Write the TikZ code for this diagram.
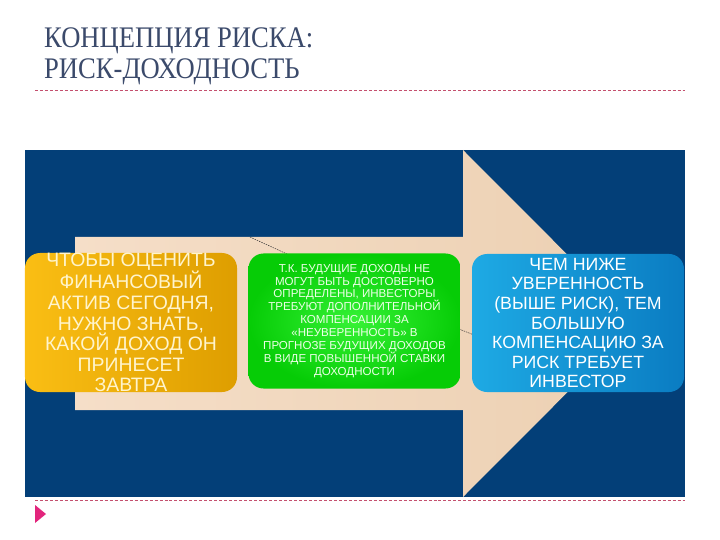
\documentclass[tikz,border=0pt]{standalone}
\usepackage{fontspec}
\setmainfont{Liberation Sans}
\newfontfamily\titlefont{Liberation Serif}
\definecolor{bgblue}{HTML}{033F78}
\definecolor{beigeL}{HTML}{F5DEC8}
\definecolor{beigeR}{HTML}{ECD0B2}
\definecolor{orgL}{HTML}{FABE14}
\definecolor{orgR}{HTML}{DE9E00}
\definecolor{grnI}{HTML}{36F236}
\definecolor{grnO}{HTML}{06CC06}
\definecolor{bluL}{HTML}{1EAAE4}
\definecolor{bluR}{HTML}{0A7CC2}
\definecolor{titlec}{HTML}{3B4A6B}
\definecolor{dashc}{HTML}{C4506E}
\definecolor{bullet}{HTML}{E2257C}
\definecolor{otxt}{HTML}{FFF4CC}
\definecolor{gtxt}{HTML}{ECFFE6}
\tikzset{
  boxshape/.style={rounded corners=15bp, inner sep=0pt, draw=none},
  otext/.style={align=center, text=otxt, font=\fontsize{19.5}{20.7}\selectfont, inner sep=0pt},
  gtext/.style={align=center, text=gtxt, font=\fontsize{11.6}{13}\selectfont, inner sep=0pt},
  btext/.style={align=center, text=white, font=\fontsize{17.8}{19.7}\selectfont, inner sep=0pt},
  titletext/.style={anchor=base west, inner sep=0pt, text=titlec, font=\titlefont\fontsize{30}{31}\selectfont, xscale=0.89},
  rule/.style={dashc, line width=0.8pt, dash pattern=on 3pt off 2pt},
  conn/.style={black!80, line width=0.5pt, dash pattern=on 1.5pt off 1pt}
}
\begin{document}
\begin{tikzpicture}[x=1bp,y=-1bp]
\useasboundingbox (0,0) rectangle (720,540);
\fill[white] (0,0) rectangle (720,540);

% title
\node[titletext] (title1) at (44,48) {КОНЦЕПЦИЯ РИСКА:};
\node[titletext] (title2) at (44,79) {РИСК-ДОХОДНОСТЬ};
\draw[rule] (35,90) -- (685,90);

% background
\fill[bgblue] (25,150) rectangle (685,497);

% arrow
\shade[left color=beigeL, right color=beigeR]
  (75,237) -- (463,237) -- (463,150) -- (636,323.5) -- (463,497) -- (463,410) -- (75,410) -- cycle;

% dashed connector remnants
\coordinate (c1) at (250,237);
\coordinate (c2) at (287,254);
\coordinate (c3) at (459,329);
\coordinate (c4) at (474,335);
\draw[conn] (c1) -- (c2);
\draw[conn] (c3) -- (c4);

% boxes
\node[boxshape, left color=orgL, right color=orgR, minimum width=212bp, minimum height=139bp] (ob) at (131,322.5) {};
\node[otext] (ot) at (ob.center) {ЧТОБЫ ОЦЕНИТЬ\\ФИНАНСОВЫЙ\\АКТИВ СЕГОДНЯ,\\НУЖНО ЗНАТЬ,\\КАКОЙ ДОХОД ОН\\ПРИНЕСЕТ\\ЗАВТРА};

\node[boxshape, inner color=grnI, outer color=grnO, minimum width=212bp, minimum height=135bp] (gb) at (354.5,321) {};
\node[gtext] (gt) at (gb.center) {Т.К. БУДУЩИЕ ДОХОДЫ НЕ\\МОГУТ БЫТЬ ДОСТОВЕРНО\\ОПРЕДЕЛЕНЫ, ИНВЕСТОРЫ\\ТРЕБУЮТ ДОПОЛНИТЕЛЬНОЙ\\КОМПЕНСАЦИИ ЗА\\«НЕУВЕРЕННОСТЬ» В\\ПРОГНОЗЕ БУДУЩИХ ДОХОДОВ\\В ВИДЕ ПОВЫШЕННОЙ СТАВКИ\\ДОХОДНОСТИ};

\node[boxshape, left color=bluL, right color=bluR, minimum width=212bp, minimum height=138bp] (bb) at (578,323) {};
\node[btext] (bt) at (bb.center) {ЧЕМ НИЖЕ\\УВЕРЕННОСТЬ\\(ВЫШЕ РИСК), ТЕМ\\БОЛЬШУЮ\\КОМПЕНСАЦИЮ ЗА\\РИСК ТРЕБУЕТ\\ИНВЕСТОР};

% bottom rule and bullet
\draw[rule] (35,500) -- (685,500);
\fill[bullet] (35,505) -- (46,514) -- (35,523) -- cycle;
\end{tikzpicture}
\end{document}
